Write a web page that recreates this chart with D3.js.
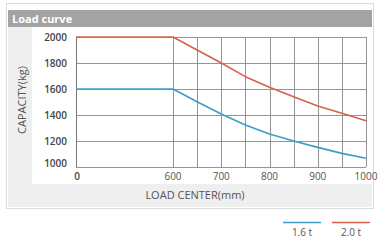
<!DOCTYPE html>
<html>
<head>
<meta charset="utf-8">
<script src="https://cdn.jsdelivr.net/npm/d3@7"></script>
<style>
  html, body { margin: 0; padding: 0; background: #fff; }
  svg { display: block; font-family: "Open Sans", sans-serif; }
</style>
</head>
<body>
<div id="chart"></div>
<script>
// values
const loadCenters = [0, 600, 650, 700, 750, 800, 850, 900, 950, 1000];
const cap16 = [1600, 1600, 1502, 1408, 1323, 1254, 1200, 1151, 1105, 1067];
const cap20 = [2000, 2000, 1900, 1800, 1695, 1613, 1541, 1469, 1413, 1356];
const xTicks = [0, 600, 700, 800, 900, 1000];
const xGrid = [600, 650, 700, 750, 800, 850, 900, 950, 1000];
const yTicks = [1000, 1200, 1400, 1600, 1800, 2000];
const seriesNames = ['1.6 t', '2.0 t'];
const seriesColours = ['#3b9dc8', '#d8614a'];

function LoadCurvePlotter() {
  this._width = 380;
  this._height = 244;
  this._left = 76;
  this._right = 366;
  this._top = 37;
  this._bottom = 167;
  this._grid_colour = '#959595';
  this._text_colour = '#555';
}

LoadCurvePlotter.prototype._draw_frame = function(svg) {
  // outer border
  svg.append('rect')
    .attr('x', 6.5).attr('y', 3.5)
    .attr('width', 367).attr('height', 205)
    .attr('fill', 'none')
    .attr('stroke', '#dcdcdc');

  // light grey panel behind axis titles
  svg.append('rect')
    .attr('x', 8).attr('y', 27)
    .attr('width', 364).attr('height', 180)
    .attr('fill', '#efefef');
  svg.append('rect')
    .attr('x', 32).attr('y', 27)
    .attr('width', 340).attr('height', 157)
    .attr('fill', '#fff');

  // header bar
  svg.append('rect')
    .attr('x', 8).attr('y', 10)
    .attr('width', 364).attr('height', 17)
    .attr('fill', '#a3a3a3');
  svg.append('text')
    .attr('x', 12).attr('y', 22.5)
    .attr('font-size', '11px')
    .attr('font-weight', 'bold')
    .attr('fill', '#fff')
    .text('Load curve');
}

LoadCurvePlotter.prototype._draw_axes = function(svg, x, y) {
  let self = this;

  svg.append('g')
    .selectAll('line')
    .data(yTicks)
    .join('line')
    .attr('x1', self._left).attr('x2', self._right)
    .attr('y1', d => Math.round(y(d)) + 0.5)
    .attr('y2', d => Math.round(y(d)) + 0.5)
    .attr('stroke', self._grid_colour)
    .attr('stroke-width', 1);

  svg.append('g')
    .selectAll('line')
    .data([0].concat(xGrid))
    .join('line')
    .attr('x1', d => Math.round(x(d)) + 0.5)
    .attr('x2', d => Math.round(x(d)) + 0.5)
    .attr('y1', self._top).attr('y2', self._bottom)
    .attr('stroke', d => d === 0 ? '#777' : self._grid_colour)
    .attr('stroke-width', 1);

  svg.append('g')
    .selectAll('text')
    .data(yTicks)
    .join('text')
    .attr('x', 67)
    .attr('y', d => y(d) + (d === 1000 ? 0 : 3.5))
    .attr('text-anchor', 'end')
    .attr('font-size', '10px')
    .attr('font-weight', 600)
    .attr('fill', '#444')
    .text(d => d);

  svg.append('g')
    .selectAll('text')
    .data(xTicks)
    .join('text')
    .attr('x', d => x(d) + (d === 0 ? 1 : 0))
    .attr('y', 180)
    .attr('text-anchor', 'middle')
    .attr('font-size', '10px')
    .attr('font-weight', d => d === 0 ? 600 : 400)
    .attr('fill', d => d === 0 ? '#444' : self._text_colour)
    .text(d => d);

  svg.append('text')
    .attr('x', 195).attr('y', 199)
    .attr('text-anchor', 'middle')
    .attr('font-size', '11px')
    .attr('fill', self._text_colour)
    .text('LOAD CENTER(mm)');

  svg.append('text')
    .attr('transform', 'translate(26,100) rotate(-90)')
    .attr('text-anchor', 'middle')
    .attr('font-size', '11px')
    .attr('fill', self._text_colour)
    .text('CAPACITY(kg)');
}

LoadCurvePlotter.prototype._draw_lines = function(svg, x, y) {
  let series = [cap16, cap20];
  let line = d3.line()
    .x((d, i) => x(loadCenters[i]))
    .y(d => y(d));

  svg.append('g')
    .selectAll('path')
    .data(series)
    .join('path')
    .attr('d', d => line(d))
    .attr('fill', 'none')
    .attr('stroke', (d, i) => seriesColours[i])
    .attr('stroke-width', 1.6)
    .attr('stroke-linejoin', 'round');
}

LoadCurvePlotter.prototype._add_legend = function(svg) {
  let g = svg.append('g')
    .selectAll('g')
    .data(seriesNames)
    .join('g')
    .attr('transform', (d, i) => 'translate(' + (283 + i * 49) + ',0)');

  g.append('line')
    .attr('x1', 0).attr('x2', 38)
    .attr('y1', 222.5).attr('y2', 222.5)
    .attr('stroke', (d, i) => seriesColours[i])
    .attr('stroke-width', 1.5);

  g.append('text')
    .attr('x', 19).attr('y', 236)
    .attr('text-anchor', 'middle')
    .attr('font-size', '10px')
    .attr('fill', this._text_colour)
    .text(d => d);
}

LoadCurvePlotter.prototype.plot = function(container) {
  let svg = d3.select(container).append('svg')
    .attr('width', this._width)
    .attr('height', this._height);

  // the axis is broken: 0..600 is squeezed, 600..1000 is linear
  let x = d3.scaleLinear()
    .domain([0, 600, 1000])
    .range([this._left, 173, this._right]);
  let y = d3.scaleLinear()
    .domain([1000, 2000])
    .range([this._bottom, this._top]);

  this._draw_frame(svg);
  this._draw_axes(svg, x, y);
  this._draw_lines(svg, x, y);
  this._add_legend(svg);
}

new LoadCurvePlotter().plot('#chart');
</script>
</body>
</html>
